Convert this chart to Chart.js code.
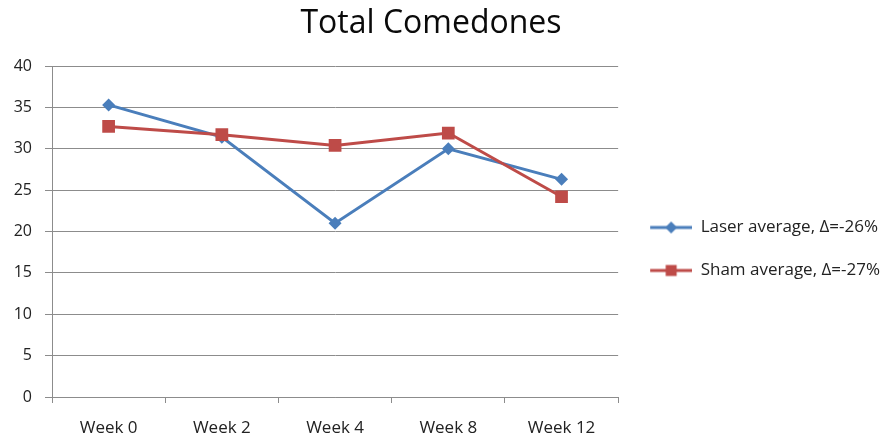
<!DOCTYPE html>
<html>
<head>
<meta charset="utf-8">
<script src="https://cdn.jsdelivr.net/npm/chart.js@4"></script>
<style>
  html, body { margin: 0; padding: 0; background: #fff; }
  #wrap { position: relative; width: 895px; height: 436px; }
  #title {
    position: absolute; left: 0; top: 5px; width: 862px;
    text-align: center; font: 32px "Open Sans", sans-serif; line-height: 1;
    color: #0a0a0a;
  }
  canvas { display: block; }
</style>
</head>
<body>
<div id="wrap">
  <div id="title">Total Comedones</div>
  <canvas id="c" width="895" height="436"></canvas>
</div>
<script>
// values
var weeks = ['Week 0', 'Week 2', 'Week 4', 'Week 8', 'Week 12'];
var laser_avg = [35.3, 31.4, 21.0, 30.0, 26.3];
var sham_avg = [32.7, 31.7, 30.4, 31.9, 24.2];
var series_names = ['Laser average, \u0394=-26%', 'Sham average, \u0394=-27%'];

var BLUE = '#4a7ebb';
var RED = '#be4b48';
var GRID = '#8c8c8c';

// legend icon: a short line with the marker in the middle
function legend_icon(color, kind) {
    var cv = document.createElement('canvas');
    cv.width = 48; cv.height = 16;
    var g = cv.getContext('2d');
    g.strokeStyle = color;
    g.lineWidth = 3;
    g.beginPath(); g.moveTo(6, 8); g.lineTo(48, 8); g.stroke();
    g.fillStyle = color;
    g.beginPath();
    if (kind == 'diamond') {
        g.moveTo(27, 2); g.lineTo(33, 8); g.lineTo(27, 14); g.lineTo(21, 8);
    } else {
        g.rect(21.5, 2.5, 11, 11);
    }
    g.closePath(); g.fill();
    return cv;
}
var icons = [legend_icon(BLUE, 'diamond'), legend_icon(RED, 'square')];

var ctx = document.getElementById('c');
new Chart(ctx, {
    type: 'line',
    data: {
        labels: weeks,
        datasets: [{
            label: series_names[0],
            data: laser_avg,
            borderColor: BLUE,
            backgroundColor: BLUE,
            borderWidth: 3,
            pointStyle: 'rectRot',
            pointRadius: 6.5,
            pointBorderWidth: 0,
            order: 1,
        }, {
            label: series_names[1],
            data: sham_avg,
            borderColor: RED,
            backgroundColor: RED,
            borderWidth: 3,
            pointStyle: 'rect',
            pointRadius: 9,
            pointBorderWidth: 0,
            order: 0,
        }]
    },
    options: {
        responsive: false,
        animation: false,
        layout: {padding: {top: 66, right: 5, bottom: 0, left: 0}},
        plugins: {
            title: {display: false},
            tooltip: {enabled: false},
            legend: {
                position: 'right',
                fullSize: false,
                maxWidth: 300,
                title: {display: true, text: ' ', font: {size: 12, lineHeight: 1}, padding: {top: 23, bottom: 0}},
                labels: {
                    usePointStyle: true,
                    pointStyleWidth: 48,
                    padding: 26,
                    color: '#222',
                    font: {family: 'Open Sans', size: 17},
                    sort: function(a, b) { return a.datasetIndex - b.datasetIndex; },
                    generateLabels: function(chart) {
                        var items = Chart.defaults.plugins.legend.labels.generateLabels(chart);
                        items.forEach(function(it) { it.pointStyle = icons[it.datasetIndex]; });
                        return items;
                    }
                }
            }
        },
        scales: {
            x: {
                offset: true,
                afterFit: function(scale) { scale.height = 39; },
                grid: {offset: true, drawOnChartArea: false, drawTicks: true, tickLength: 6, color: GRID},
                border: {color: GRID, width: 1},
                ticks: {color: '#222', padding: 15, maxRotation: 0, font: {family: 'Open Sans', size: 17}}
            },
            y: {
                min: 0, max: 40,
                afterFit: function(scale) { scale.width = 52; },
                grid: {color: GRID, tickLength: 7, drawTicks: true},
                border: {color: GRID, width: 1},
                ticks: {stepSize: 5, color: '#222', padding: 13, font: {family: 'Open Sans', size: 16}}
            }
        }
    }
});
</script>
</body>
</html>
